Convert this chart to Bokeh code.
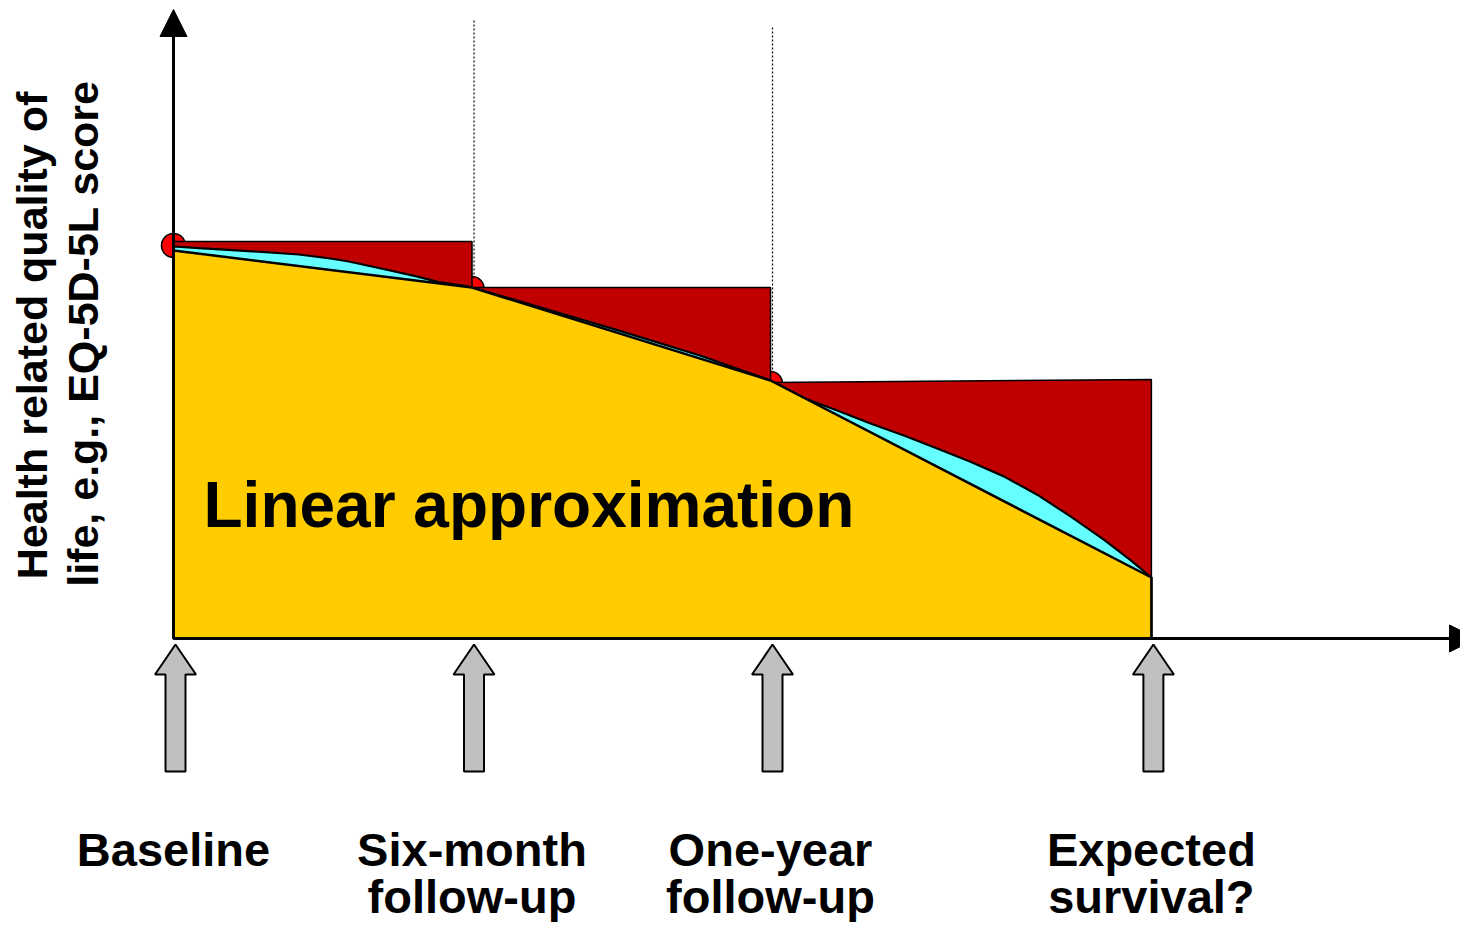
import math
from bokeh.plotting import figure
from bokeh.models import Range1d, Arrow, NormalHead
from bokeh.core.properties import value
from bokeh.embed import file_html
from bokeh.resources import INLINE

# ---------------- data ----------------
visit_times = [0.0, 0.5, 1.0]            # baseline, six-month, one-year (years)
survival_time = 1.638                    # expected survival
step_start = [0.9925, 0.8775, 0.640]     # observed score carried forward (start of step)
step_end = [0.9925, 0.8775, 0.6475]      # end of step
measured_score = [0.9825, 0.875, 0.6375] # measured points (red dots)
linear_times = [0.0, 0.5, 1.0, 1.638]
linear_score = [0.97, 0.8775, 0.645, 0.1525]
true_times = [0.0, 0.0424, 0.0983, 0.1541, 0.2099, 0.2658, 0.2936, 0.3496,
              0.4054, 0.4444, 0.4891, 0.5,
              0.648, 0.749, 0.883, 1.0,
              1.0558, 1.1117, 1.1675, 1.2233, 1.2792, 1.335, 1.3908, 1.4467,
              1.5025, 1.5583, 1.603, 1.638]
true_score = [0.98, 0.9758, 0.9708, 0.9658, 0.96, 0.9493, 0.9425, 0.9243,
              0.9058, 0.8908, 0.8808, 0.8775,
              0.813, 0.7685, 0.707, 0.645,
              0.6013, 0.5698, 0.5375, 0.5073, 0.475, 0.4418, 0.4053, 0.3595,
              0.3053, 0.247, 0.196, 0.1525]
label_lines1 = ["Baseline", "Six-month", "One-year", "Expected"]
label_lines2 = ["", "follow-up", "follow-up", "survival?"]
label_times = [0.0, 0.5, 1.0, 1.638]
y_title = ["Health related quality of", "life, e.g., EQ-5D-5L score"]
inner_label = "Linear approximation"

# ---------------- geometry / style ----------------
PX_T = 597.0   # px per year
PX_U = 400.0   # px per score unit
X0, Y0 = 173.0, 638.0
def t_of(px): return (px - X0) / PX_T
def u_of(py): return (Y0 - py) / PX_U

W, H = 1460, 922
p = figure(width=W, height=H, x_range=Range1d(t_of(0), t_of(W)),
           y_range=Range1d(u_of(H), u_of(0)), output_backend="svg",
           toolbar_location=None, min_border=0)
p.axis.visible = False
p.grid.visible = False
p.outline_line_color = None
p.background_fill_color = "white"

YELLOW = "#FFCC00"; RED = "#C00000"; CYAN = "#66FFFF"; GRAY = "#C0C0C0"; DOT = "#FF0000"

# dotted guide lines at follow-ups
guide_tops = [u_of(20), u_of(27)]
for t, top, s in zip(visit_times[1:], guide_tops, step_start[1:]):
    p.line([t + 2 / PX_T, t + 2 / PX_T], [top, s], line_color="black",
           line_width=1.2, line_dash="2 2")

# red dots (measurements)
p.scatter(visit_times, measured_score, size=24, fill_color=DOT,
          line_color="black", line_width=1.5)

# red step rectangles
ends = visit_times[1:] + [survival_time]
xs, ys = [], []
for a, b, s0, s1 in zip(visit_times, ends, step_start, step_end):
    xs.append([a, a, b, b]); ys.append([0, s0, s1, 0])
p.patches(xs, ys, fill_color=RED, line_color="black", line_width=1.5)

# true curve area (cyan)
p.patch(true_times + [survival_time, 0.0], true_score + [0, 0],
        fill_color=CYAN, line_color="black", line_width=2.2)

# linear approximation (yellow)
p.patch(linear_times + [survival_time, 0.0], linear_score + [0, 0],
        fill_color=YELLOW, line_color="black", line_width=2.5)

# axes arrows
p.add_layout(Arrow(end=NormalHead(size=27, fill_color="black", line_color="black"),
                   x_start=0, y_start=0, x_end=0, y_end=u_of(9),
                   line_color="black", line_width=3))
p.add_layout(Arrow(end=NormalHead(size=27, fill_color="black", line_color="black"),
                   x_start=0, y_start=0, x_end=t_of(1476), y_end=0,
                   line_color="black", line_width=3))

# gray block arrows
hw, sw = 20.5 / PX_T, 10 / PX_T
tip, base, bot = u_of(644), u_of(674), u_of(771)
axs, ays = [], []
for t in label_times:
    t = t + 2 / PX_T
    axs.append([t, t + hw, t + sw, t + sw, t - sw, t - sw, t - hw])
    ays.append([tip, base, base, bot, bot, base, base])
p.patches(axs, ays, fill_color=GRAY, line_color="black", line_width=2)

# bottom labels (svg text sits ~0.37em below the given alphabetic baseline)
font = value("Liberation Sans")
p.text(label_times, [u_of(849)] * 4, text=label_lines1, text_font=font,
       text_font_style="bold", text_font_size="47px", text_align="center",
       text_baseline="alphabetic", text_color="black")
p.text(label_times, [u_of(896)] * 4, text=label_lines2, text_font=font,
       text_font_style="bold", text_font_size="47px", text_align="center",
       text_baseline="alphabetic", text_color="black")

# inner label
p.text([t_of(203)], [u_of(504)], text=[inner_label], text_font=font,
       text_font_style="bold", text_font_size="64px", text_align="left",
       text_baseline="alphabetic", text_color="black")

# y title (rotated)
p.text([t_of(31), t_of(82)], [u_of(335), u_of(333)], text=y_title, angle=math.pi / 2,
       text_font=font, text_font_style="bold", text_font_size="43px",
       text_align="center", text_baseline="alphabetic", text_color="black")

open("out.html", "w").write(file_html(p, INLINE))
